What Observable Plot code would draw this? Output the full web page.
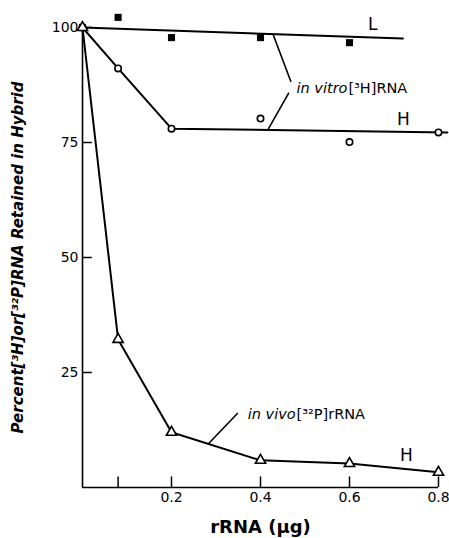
<!DOCTYPE html>
<html><head><meta charset="utf-8">
<script src="https://cdn.jsdelivr.net/npm/d3@7"></script>
<script src="https://cdn.jsdelivr.net/npm/@observablehq/plot@0.6"></script>
<style>body{margin:0;background:#fff}</style>
</head><body><div id="chart"></div>
<script>
// rRNA amounts (µg)
const rRNA = [0, 0.08, 0.2, 0.4, 0.6, 0.8];
// in vitro [3H]RNA, L strand (filled squares) – no point at 0.8
const vitroL = [100, 102.2, 97.8, 97.8, 96.7];
// in vitro [3H]RNA, H strand (open circles)
const vitroH = [100, 91.1, 78.0, 80.2, 75.1, 77.2];
// in vivo [32P]rRNA, H strand (open triangles)
const vivoH = [100, 32.2, 12.0, 5.9, 5.2, 3.3];
// drawn fit lines
const lLineX = [0, 0.72];
const lLineY = [100, 97.6];
const hLineX = [0, 0.08, 0.2, 0.82];
const hLineY = [100, 91.1, 78.0, 77.2];

const yTicks = [25, 50, 75, 100];
const xTickLabels = [0.2, 0.4, 0.6, 0.8];
const xTickMarks = [0.08, 0.2, 0.4, 0.6, 0.8];

const yLabel = "Percent[³H]or[³²P]RNA Retained in Hybrid";
const xLabel = "rRNA (μg)";

const strandLabels = [
  {x: 0.652, y: 100.6, t: "L"},
  {x: 0.721, y: 80.0, t: "H"},
  {x: 0.728, y: 7.0, t: "H"}
];
const italicNotes = [
  {x: 0.5955, y: 86.7, t: "in vitro"},
  {x: 0.479, y: 15.8, t: "in vivo"}
];
const plainNotes = [
  {x: 0.5975, y: 86.7, t: "[³H]RNA"},
  {x: 0.481, y: 15.8, t: "[³²P]rRNA"}
];
const arrows = [
  {x1: 0.468, y1: 88.3, x2: 0.429, y2: 98.3, bend: 8},
  {x1: 0.463, y1: 85.7, x2: 0.418, y2: 78.0, bend: -8},
  {x1: 0.348, y1: 16.1, x2: 0.283, y2: 9.5, bend: -8}
];

const L = rRNA.slice(0, vitroL.length).map((x, i) => ({x, y: vitroL[i]}));
const H = rRNA.map((x, i) => ({x, y: vitroH[i]}));
const V = rRNA.map((x, i) => ({x, y: vivoH[i]}));
const lLine = lLineX.map((x, i) => ({x, y: lLineY[i]}));
const hLine = hLineX.map((x, i) => ({x, y: hLineY[i]}));

const font = "DejaVu Sans, sans-serif";

const chart = Plot.plot({
  width: 449,
  height: 538,
  marginLeft: 82,
  marginRight: 11,
  marginTop: 27,
  marginBottom: 51,
  style: {fontFamily: font, background: "#fff", color: "#000"},
  x: {domain: [0, 0.8]},
  y: {domain: [0, 100]},
  marks: [
    Plot.ruleX([0], {y1: 0, y2: 100, strokeWidth: 1.6}),
    Plot.ruleY([0], {x1: 0, x2: 0.8, strokeWidth: 1.6}),
    Plot.ruleY(yTicks, {x1: 0, x2: 0.022, strokeWidth: 1.5}),
    Plot.ruleX(xTickMarks, {y1: 0, y2: 2.3, strokeWidth: 1.5}),
    Plot.axisY({ticks: yTicks, tickSize: 0, tickPadding: 4, fontSize: 14, label: null}),
    Plot.axisX({ticks: xTickLabels, tickSize: 0, tickPadding: 5, fontSize: 14, label: null}),
    Plot.line(lLine, {x: "x", y: "y", strokeWidth: 2}),
    Plot.line(hLine, {x: "x", y: "y", strokeWidth: 2}),
    Plot.line(V, {x: "x", y: "y", strokeWidth: 2}),
    Plot.dot(L, {x: "x", y: "y", symbol: "square", r: 4, fill: "#000"}),
    Plot.dot(H, {x: "x", y: "y", r: 3.2, fill: "#fff", stroke: "#000", strokeWidth: 1.6}),
    Plot.dot(V, {x: "x", y: "y", symbol: "triangle", r: 3.8, fill: "#fff", stroke: "#000", strokeWidth: 1.6}),
    Plot.arrow(arrows, {x1: "x1", y1: "y1", x2: "x2", y2: "y2", bend: d => d.bend, strokeWidth: 1.6, headLength: 8}),
    Plot.text(strandLabels, {x: "x", y: "y", text: "t", fontSize: 17, fill: "#000"}),
    Plot.text(italicNotes, {x: "x", y: "y", text: "t", fontSize: 14.5, fontStyle: "italic", textAnchor: "end", fill: "#000"}),
    Plot.text(plainNotes, {x: "x", y: "y", text: "t", fontSize: 14.5, textAnchor: "start", fill: "#000"}),
    Plot.text([yLabel], {frameAnchor: "left", textAnchor: "middle", rotate: -90, dx: -64, fontSize: 15, fontStyle: "italic", fontWeight: "bold", fill: "#000"}),
    Plot.text([xLabel], {frameAnchor: "bottom", dy: 45, fontSize: 18, fontWeight: "bold", fill: "#000"})
  ]
});
document.getElementById("chart").append(chart);
</script>
</body></html>
